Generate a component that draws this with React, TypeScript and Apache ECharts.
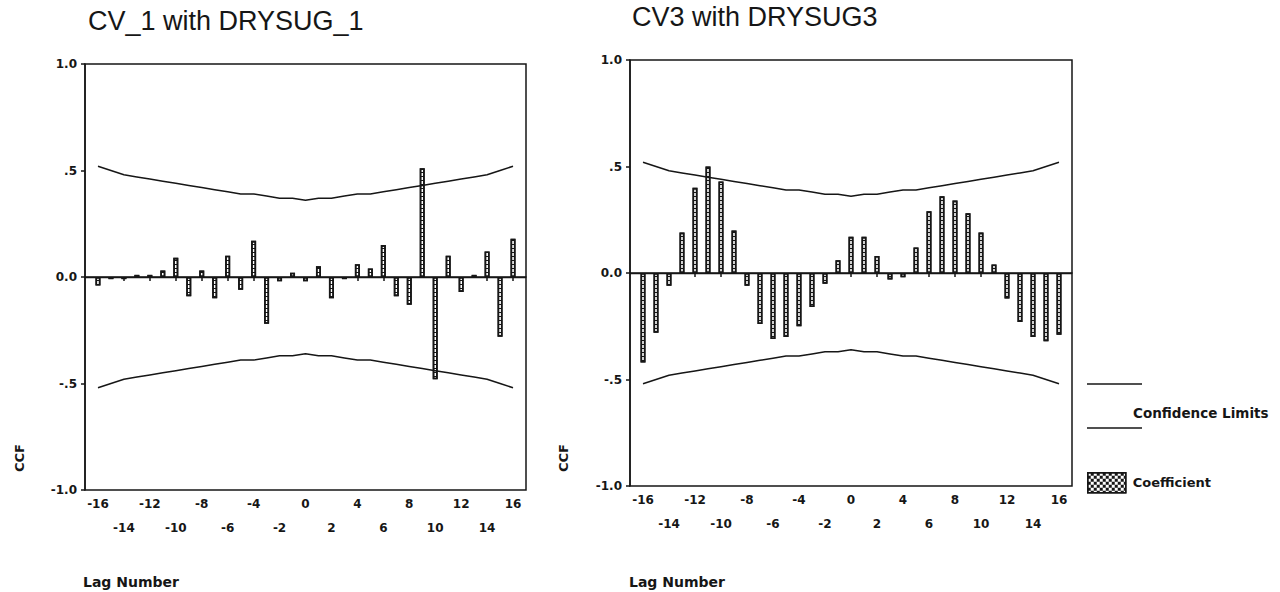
import React, { useEffect, useRef } from "react";
import * as echarts from "echarts";

// Lag numbers shown on both cross-correlation panels
const lags = [
  -16, -15, -14, -13, -12, -11, -10, -9, -8, -7, -6, -5, -4, -3, -2, -1, 0,
  1, 2, 3, 4, 5, 6, 7, 8, 9, 10, 11, 12, 13, 14, 15, 16,
];

// Axis span reaches one lag beyond the outermost coefficient on each side
const axisSpan = [-17, ...lags, 17];

// Cross-correlation coefficients, CV_1 with DRYSUG_1
const ccfCv1 = [
  -0.04, -0.01, -0.01, 0.01, 0.01, 0.03, 0.09, -0.09, 0.03, -0.1, 0.1, -0.06,
  0.17, -0.22, -0.02, 0.02, -0.02, 0.05, -0.1, -0.01, 0.06, 0.04, 0.15, -0.09,
  -0.13, 0.51, -0.48, 0.1, -0.07, 0.01, 0.12, -0.28, 0.18,
];

// Cross-correlation coefficients, CV3 with DRYSUG3
const ccfCv3 = [
  -0.42, -0.28, -0.06, 0.19, 0.4, 0.5, 0.43, 0.2, -0.06, -0.24, -0.31, -0.3,
  -0.25, -0.16, -0.05, 0.06, 0.17, 0.17, 0.08, -0.03, -0.02, 0.12, 0.29, 0.36,
  0.34, 0.28, 0.19, 0.04, -0.12, -0.23, -0.3, -0.32, -0.29,
];

// Upper and lower confidence limits per lag
const confUpper = [
  0.52, 0.5, 0.48, 0.47, 0.46, 0.45, 0.44, 0.43, 0.42, 0.41, 0.4, 0.39, 0.39,
  0.38, 0.37, 0.37, 0.36, 0.37, 0.37, 0.38, 0.39, 0.39, 0.4, 0.41, 0.42, 0.43,
  0.44, 0.45, 0.46, 0.47, 0.48, 0.5, 0.52,
];
const confLower = [
  -0.52, -0.5, -0.48, -0.47, -0.46, -0.45, -0.44, -0.43, -0.42, -0.41, -0.4,
  -0.39, -0.39, -0.38, -0.37, -0.37, -0.36, -0.37, -0.37, -0.38, -0.39, -0.39,
  -0.4, -0.41, -0.42, -0.43, -0.44, -0.45, -0.46, -0.47, -0.48, -0.5, -0.52,
];

const yTickLabels: Record<string, string> = {
  "1": "1.0",
  "0.5": ".5",
  "0": "0.0",
  "-0.5": "-.5",
  "-1": "-1.0",
};

const panelTitles = ["CV_1 with DRYSUG_1", "CV3 with DRYSUG3"];

const INK = "#161616";
const FONT = "'DejaVu Sans', Verdana, sans-serif";
const TITLE_FONT = "'Liberation Sans', Arial, sans-serif";

const padded = (vals: number[]) => [null, ...vals, null];

const isShownLag = (_i: number, v: string | number) => {
  const n = Number(v);
  return n % 2 === 0 && Math.abs(n) <= 16;
};

function buildOption() {
  const grids = [
    { left: 85, top: 64, width: 441, height: 426 },
    { left: 630, top: 60, width: 442, height: 426 },
  ];
  const series: any[] = [];
  [ccfCv1, ccfCv3].forEach((vals, i) => {
    series.push({
      type: "bar",
      name: "Coefficient",
      xAxisIndex: i,
      yAxisIndex: i,
      data: padded(vals),
      barWidth: 5,
      itemStyle: {
        color: "#ffffff",
        borderColor: INK,
        borderWidth: 1.6,
        decal: {
          symbol: "rect",
          symbolSize: 1,
          color: INK,
          dashArrayX: [[8, 0]],
          dashArrayY: [1, 3],
          rotation: 0,
        },
      },
      markLine: {
        silent: true,
        symbol: ["none", "none"],
        label: { show: false },
        lineStyle: { color: INK, width: 1.4, type: "solid" },
        data: [{ yAxis: 0 }],
      },
    });
    [confUpper, confLower].forEach((lim) => {
      series.push({
        type: "line",
        name: "Confidence Limits",
        xAxisIndex: i,
        yAxisIndex: i,
        data: padded(lim),
        symbol: "none",
        lineStyle: { color: INK, width: 1.5 },
        silent: true,
      });
    });
  });

  return {
    animation: false,
    backgroundColor: "#ffffff",
    grid: grids.map((g) => ({
      ...g,
      show: true,
      borderColor: INK,
      borderWidth: 1.5,
      backgroundColor: "transparent",
    })),
    xAxis: grids.map((_g, i) => ({
      type: "category",
      gridIndex: i,
      data: axisSpan.map(String),
      boundaryGap: false,
      axisLine: { show: true, lineStyle: { color: INK, width: 1.5 } },
      axisTick: {
        show: true,
        interval: isShownLag,
        length: 4,
        lineStyle: { color: INK, width: 1.5 },
      },
      axisLabel: {
        interval: isShownLag,
        formatter: (v: string) =>
          Math.abs(Number(v)) % 4 === 0 ? v : "\n" + v,
        color: INK,
        fontFamily: FONT,
        fontSize: 12,
        fontWeight: "bold",
        lineHeight: 24,
        margin: 2,
      },
      splitLine: { show: false },
    })),
    yAxis: grids.map((_g, i) => ({
      type: "value",
      gridIndex: i,
      min: -1,
      max: 1,
      interval: 0.5,
      axisLine: { show: true, lineStyle: { color: INK, width: 1.5 } },
      axisTick: { show: true, length: 4, lineStyle: { color: INK, width: 1.5 } },
      axisLabel: {
        formatter: (v: number) => yTickLabels[String(v)] ?? String(v),
        color: INK,
        fontFamily: FONT,
        fontSize: 12,
        fontWeight: "bold",
        margin: 8,
      },
      splitLine: { show: false },
    })),
    legend: {
      data: ["Coefficient"],
      left: 1087,
      top: 472,
      padding: 0,
      icon: "rect",
      itemWidth: 38,
      itemHeight: 20,
      selectedMode: false,
      textStyle: {
        color: INK,
        fontFamily: FONT,
        fontSize: 13,
        fontWeight: "bold",
        padding: [0, 0, 0, 2],
      },
      itemStyle: {
        color: "#ffffff",
        borderColor: INK,
        borderWidth: 1.5,
        decal: {
          symbol: "rect",
          symbolSize: 1,
          color: INK,
          dashArrayX: [
            [3, 3],
            [0, 3, 3, 0],
          ],
          dashArrayY: [3, 0],
          rotation: 0,
        },
      },
    },
    series,
    graphic: [
      {
        type: "text",
        x: 88,
        y: 21,
        style: {
          text: panelTitles[0],
          fontFamily: TITLE_FONT,
          fontSize: 27,
          fill: INK,
          verticalAlign: "middle",
        },
      },
      {
        type: "text",
        x: 632,
        y: 17,
        style: {
          text: panelTitles[1],
          fontFamily: TITLE_FONT,
          fontSize: 27,
          fill: INK,
          verticalAlign: "middle",
        },
      },
      ...[
        [19, 458],
        [563, 458],
      ].map(([x, y]) => ({
        type: "text",
        x,
        y,
        rotation: Math.PI / 2,
        style: {
          text: "CCF",
          fontFamily: FONT,
          fontSize: 13,
          fontWeight: "bold",
          fill: INK,
          align: "center",
          verticalAlign: "middle",
        },
      })),
      ...[
        [83, 582],
        [629, 582],
      ].map(([x, y]) => ({
        type: "text",
        x,
        y,
        style: {
          text: "Lag Number",
          fontFamily: FONT,
          fontSize: 14,
          fontWeight: "bold",
          fill: INK,
          verticalAlign: "middle",
        },
      })),
      {
        type: "line",
        shape: { x1: 1087, y1: 384, x2: 1142, y2: 384 },
        style: { stroke: INK, lineWidth: 1.5 },
      },
      {
        type: "line",
        shape: { x1: 1087, y1: 428, x2: 1142, y2: 428 },
        style: { stroke: INK, lineWidth: 1.5 },
      },
      {
        type: "text",
        x: 1133,
        y: 413,
        style: {
          text: "Confidence Limits",
          fontFamily: FONT,
          fontSize: 13.5,
          fontWeight: "bold",
          fill: INK,
          verticalAlign: "middle",
        },
      },
    ],
  };
}

export default function App() {
  const ref = useRef<HTMLDivElement>(null);
  useEffect(() => {
    if (!ref.current) return;
    const chart = echarts.init(ref.current, undefined, { renderer: "svg" });
    chart.setOption(buildOption() as any);
    return () => chart.dispose();
  }, []);
  return (
    <div
      ref={ref}
      style={{ position: "fixed", left: 0, top: 0, width: 1280, height: 592 }}
    />
  );
}
